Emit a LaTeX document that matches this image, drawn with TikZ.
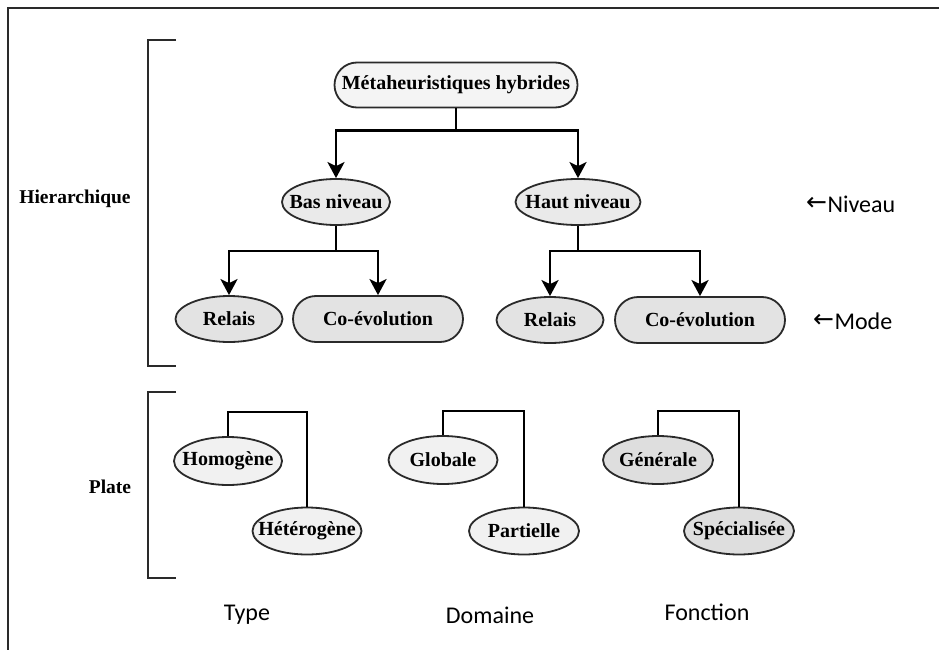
\documentclass[tikz,border=0pt]{standalone}
\usepackage{fontspec}
\setmainfont{Liberation Serif}
\newfontfamily\labelfont{Carlito}
\newfontfamily\arrowfont{DejaVu Sans}
\usetikzlibrary{shapes.geometric,shapes.misc,arrows.meta}

\definecolor{ink}{HTML}{2A2A2A}
\definecolor{fillA}{HTML}{F4F4F4}
\definecolor{fillB}{HTML}{EAEAEA}
\definecolor{fillC}{HTML}{E3E3E3}
\definecolor{fillD}{HTML}{F1F1F1}
\definecolor{fillE}{HTML}{DEDEDE}

\tikzset{
  boxfont/.style={font=\fontsize{20}{22}\selectfont\bfseries},
  oval/.style={ellipse, draw=ink, line width=1.8pt, inner sep=0pt, boxfont},
  pill/.style={rounded rectangle, draw=ink, line width=1.8pt, inner sep=0pt, boxfont},
  conn/.style={draw=black, line width=2.5pt},
  arr/.style={conn, -{Stealth[length=16pt,width=17pt,inset=4pt]}},
  bracket/.style={draw=ink, line width=2.8pt},
  side/.style={font=\fontsize{19.5}{22}\selectfont\bfseries},
  tag/.style={font=\labelfont\fontsize{24}{27}\selectfont, inner sep=0pt},
  leftarrow/.style={font=\arrowfont\fontsize{25}{27}\selectfont, inner sep=0pt},
}

\begin{document}
\begin{tikzpicture}[x=1pt,y=-1pt]
  \useasboundingbox (0,0) rectangle (939,650);

  % outer frame (open to the right and bottom)
  \draw[draw=ink, line width=2pt] (939,8) -- (8,8) -- (8,650);

  % group brackets
  \draw[bracket] (176,40) -- (148,40) -- (148,366) -- (176,366);
  \draw[bracket] (176,392) -- (148,392) -- (148,578) -- (176,578);
  \node[side] (hier) at (75,199) {Hierarchique};
  \node[side] (plate) at (110,487) {Plate};

  % hierarchical classification
  \node[pill, fill=fillA, minimum width=243pt, minimum height=45pt] (meta) at (456,85) {\makebox[0pt]{Métaheuristiques hybrides}};
  \node[oval, fill=fillB, minimum width=108pt, minimum height=46pt] (bas) at (336,202) {\makebox[0pt]{Bas niveau}};
  \node[oval, fill=fillB, minimum width=125pt, minimum height=46pt] (haut) at (578,202) {\makebox[0pt]{Haut niveau}};
  \node[oval, fill=fillC, minimum width=107pt, minimum height=46pt] (relA) at (229,319) {\makebox[0pt]{Relais}};
  \node[pill, fill=fillC, minimum width=170pt, minimum height=46pt] (coA) at (378,319) {\makebox[0pt]{Co-évolution}};
  \node[oval, fill=fillC, minimum width=107pt, minimum height=46pt] (relB) at (550,320) {\makebox[0pt]{Relais}};
  \node[pill, fill=fillC, minimum width=170pt, minimum height=46pt] (coB) at (700,320) {\makebox[0pt]{Co-évolution}};

  \draw[arr] (meta.south) -- ++(0,22) -| (bas.north);
  \draw[arr] (meta.south) -- ++(0,22) -| (haut.north);
  \draw[arr] (bas.south) -- ++(0,25) -| (relA.north);
  \draw[arr] (bas.south) -- ++(0,25) -| (coA.north);
  \draw[arr] (haut.south) -- ++(0,25) -| (relB.north);
  \draw[arr] (haut.south) -- ++(0,25) -| (coB.north);

  \node[leftarrow, anchor=west] (nivarrow) at (806,204) {←};
  \node[tag, anchor=west] (niv) at (nivarrow.east) {Niveau};
  \node[leftarrow, anchor=west] (modearrow) at (813,321) {←};
  \node[tag, anchor=west] (mode) at (modearrow.east) {Mode};

  % flat classification
  \node[oval, fill=fillD, minimum width=108pt, minimum height=48pt] (homo) at (228,461) {\makebox[0pt]{Homogène}};
  \node[oval, fill=fillD, minimum width=109pt, minimum height=47pt] (hete) at (307,531) {\makebox[0pt]{Hétérogène}};
  \node[oval, fill=fillD, minimum width=109pt, minimum height=48pt] (glob) at (443,460) {\makebox[0pt]{Globale}};
  \node[oval, fill=fillD, minimum width=110pt, minimum height=47pt] (part) at (524,531) {\makebox[0pt]{Partielle}};
  \node[oval, fill=fillE, minimum width=110pt, minimum height=48pt] (gene) at (658,460) {\makebox[0pt]{Générale}};
  \node[oval, fill=fillE, minimum width=110pt, minimum height=47pt] (spec) at (739,531) {\makebox[0pt]{Spécialisée}};

  \draw[conn] (homo.north) -- ++(0,-24) -| (hete.north);
  \draw[conn] (glob.north) -- ++(0,-24) -| (part.north);
  \draw[conn] (gene.north) -- ++(0,-24) -| (spec.north);

  \node[tag] (type) at (247,615) {Type};
  \node[tag] (dom) at (490,615) {Domaine};
  \node[tag] (fonc) at (707,612) {Fonction};
\end{tikzpicture}
\end{document}
